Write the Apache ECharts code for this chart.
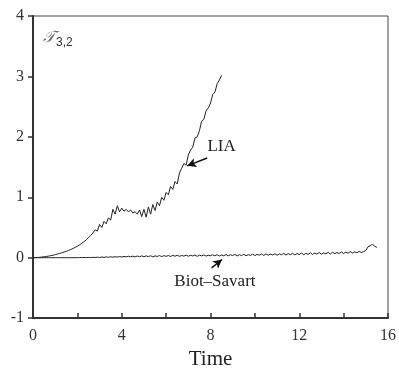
<!DOCTYPE html>
<html><head><meta charset="utf-8">
<script src="https://cdn.jsdelivr.net/npm/echarts@6/dist/echarts.min.js"></script>
<style>html,body{margin:0;padding:0;background:#fff}#c{width:399px;height:375px}</style>
</head><body><div id="c"></div>
<script>
var xTicks = [0, 4, 8, 12, 16];
var yTicks = [-1, 0, 1, 2, 3, 4];

var liaTime = [0.0,0.1,0.2,0.3,0.4,0.5,0.6,0.7,0.8,0.9,1.0,1.1,1.2,1.3,1.4,1.5,1.6,1.7,1.8,1.9,2.0,2.1,2.2,2.3,2.4,2.5,2.6,2.7,2.8,2.9,3.0,3.1,3.2,3.3,3.4,3.5,3.6,3.7,3.8,3.9,4.0,4.1,4.2,4.3,4.4,4.5,4.6,4.7,4.8,4.9,5.0,5.1,5.2,5.3,5.4,5.5,5.6,5.7,5.8,5.9,6.0,6.1,6.2,6.3,6.4,6.5,6.6,6.7,6.8,6.9,7.0,7.1,7.2,7.3,7.4,7.5,7.6,7.7,7.8,7.9,8.0,8.1,8.2,8.3,8.4,8.5];
var liaValue = [0,0.001,0.003,0.006,0.01,0.015,0.02,0.026,0.033,0.041,0.05,0.06,0.07,0.081,0.093,0.106,0.12,0.135,0.152,0.17,0.19,0.213,0.238,0.265,0.295,0.33,0.368,0.41,0.46,0.44,0.55,0.5,0.6,0.56,0.66,0.62,0.8,0.72,0.86,0.76,0.82,0.77,0.8,0.76,0.79,0.74,0.76,0.72,0.79,0.68,0.8,0.67,0.84,0.72,0.88,0.78,0.92,0.86,1.0,0.95,1.08,1.04,1.18,1.13,1.26,1.22,1.4,1.48,1.56,1.53,1.7,1.78,1.83,1.98,2.0,2.1,2.26,2.29,2.43,2.48,2.56,2.7,2.74,2.88,2.94,3.02];

var bsTime = [0.0,0.1,0.2,0.3,0.4,0.5,0.6,0.7,0.8,0.9,1.0,1.1,1.2,1.3,1.4,1.5,1.6,1.7,1.8,1.9,2.0,2.1,2.2,2.3,2.4,2.5,2.6,2.7,2.8,2.9,3.0,3.1,3.2,3.3,3.4,3.5,3.6,3.7,3.8,3.9,4.0,4.1,4.2,4.3,4.4,4.5,4.6,4.7,4.8,4.9,5.0,5.1,5.2,5.3,5.4,5.5,5.6,5.7,5.8,5.9,6.0,6.1,6.2,6.3,6.4,6.5,6.6,6.7,6.8,6.9,7.0,7.1,7.2,7.3,7.4,7.5,7.6,7.7,7.8,7.9,8.0,8.1,8.2,8.3,8.4,8.5,8.6,8.7,8.8,8.9,9.0,9.1,9.2,9.3,9.4,9.5,9.6,9.7,9.8,9.9,10.0,10.1,10.2,10.3,10.4,10.5,10.6,10.7,10.8,10.9,11.0,11.1,11.2,11.3,11.4,11.5,11.6,11.7,11.8,11.9,12.0,12.1,12.2,12.3,12.4,12.5,12.6,12.7,12.8,12.9,13.0,13.1,13.2,13.3,13.4,13.5,13.6,13.7,13.8,13.9,14.0,14.1,14.2,14.3,14.4,14.5,14.6,14.7,14.8,14.9,15.0,15.1,15.2,15.3,15.4,15.5];
var bsValue = [0,0,0,0,0,0,0,0,0,0,0,0,0,0,0,0,0,0,0,0,0,
0.002,0.0,0.004,0.001,0.005,0.002,0.006,0.003,0.008,0.004,0.01,0.006,0.012,0.007,0.015,0.008,0.016,0.01,0.018,0.012,
0.02,0.013,0.024,0.014,0.026,0.012,0.028,0.015,0.03,0.016,0.03,0.018,0.032,0.014,0.03,0.02,0.035,0.018,0.034,0.022,
0.036,0.02,0.038,0.024,0.04,0.022,0.036,0.026,0.042,0.024,0.04,0.028,0.044,0.022,0.042,0.03,0.046,0.026,0.04,0.032,
0.048,0.03,0.05,0.026,0.044,0.032,0.052,0.03,0.048,0.036,0.055,0.028,0.05,0.034,0.056,0.032,0.05,0.038,0.058,0.035,
0.055,0.04,0.06,0.038,0.062,0.042,0.058,0.045,0.066,0.04,0.064,0.048,0.07,0.044,0.066,0.05,0.072,0.046,0.068,0.052,
0.075,0.05,0.07,0.056,0.08,0.054,0.076,0.06,0.085,0.058,0.08,0.062,0.088,0.06,0.09,0.066,0.086,0.068,0.094,0.07,
0.092,0.074,0.1,0.078,0.096,0.082,0.104,0.086,0.1,0.12,0.18,0.2,0.22,0.19,0.17];

var seriesNames = ['LIA', 'Biot\u2013Savart'];
// annotation anchors in data units
var liaLabelAt = [8.5, 1.84];
var liaArrow = [[7.85, 1.65], [6.95, 1.52]];
var bsLabelAt = [8.2, -0.40];
var bsArrow = [[8.05, -0.17], [8.52, -0.03]];

function pairs(t, v) { return t.map(function (x, i) { return [x, v[i]]; }); }

var serif = '"Liberation Serif","Times New Roman",serif';
var chart = echarts.init(document.getElementById('c'), null, {renderer: 'canvas'});
chart.setOption({
  animation: false,
  backgroundColor: '#fff',
  grid: {left: 33, right: 10, top: 16, bottom: 54, show: true, borderColor: '#444', borderWidth: 1},
  title: {
    text: '{t|\uD835\uDCAF}{s|3,2}',
    left: 38, top: 22,
    textStyle: {fontWeight: 'normal', rich: {
      t: {fontFamily: '"DejaVu Serif","DejaVu Sans",serif', fontStyle: 'italic', fontWeight: 'normal', fontSize: 16, color: '#666'},
      s: {fontFamily: '"Liberation Sans",Arial,sans-serif', fontWeight: 'normal', fontSize: 12, color: '#333', padding: [10, 0, 0, 1]}
    }}
  },
  xAxis: {
    type: 'value', min: 0, max: 16, interval: 2,
    name: 'Time', nameLocation: 'middle', nameGap: 30,
    nameTextStyle: {fontFamily: serif, fontSize: 21, color: '#222'},
    axisLine: {onZero: false, lineStyle: {color: '#333', width: 2}},
    axisTick: {inside: true, length: 5, lineStyle: {color: '#333', width: 1.5}},
    axisLabel: {fontFamily: serif, fontSize: 16, color: '#333', margin: 10,
      formatter: function (v) { return xTicks.indexOf(v) >= 0 ? String(v) : ''; }},
    splitLine: {show: false}
  },
  yAxis: {
    type: 'value', min: -1, max: 4, interval: 1,
    axisLine: {show: true, onZero: false, lineStyle: {color: '#333', width: 2}},
    axisTick: {show: true, inside: false, length: 5, lineStyle: {color: '#333', width: 1.5}},
    axisLabel: {fontFamily: serif, fontSize: 16, color: '#333', margin: 9,
      formatter: function (v) { return yTicks.indexOf(v) >= 0 ? String(v) : ''; }},
    splitLine: {show: false}
  },
  series: [
    {
      name: seriesNames[0], type: 'line', showSymbol: false, symbol: 'none',
      data: pairs(liaTime, liaValue),
      lineStyle: {color: '#222', width: 1},
      markPoint: {symbol: 'circle', symbolSize: 0, silent: true,
        label: {show: true, position: 'inside', formatter: seriesNames[0], fontFamily: serif, fontSize: 17, color: '#222'},
        data: [{coord: liaLabelAt}]},
      markLine: {silent: true, symbol: ['none', 'arrow'], symbolSize: [7, 9], label: {show: false},
        lineStyle: {color: '#111', width: 1.5, type: 'solid'},
        data: [[{coord: liaArrow[0]}, {coord: liaArrow[1]}]]}
    },
    {
      name: seriesNames[1], type: 'line', showSymbol: false, symbol: 'none',
      data: pairs(bsTime, bsValue),
      lineStyle: {color: '#222', width: 1},
      markPoint: {symbol: 'circle', symbolSize: 0, silent: true,
        label: {show: true, position: 'inside', formatter: seriesNames[1], fontFamily: serif, fontSize: 17, color: '#222'},
        data: [{coord: bsLabelAt}]},
      markLine: {silent: true, symbol: ['none', 'arrow'], symbolSize: [7, 9], label: {show: false},
        lineStyle: {color: '#111', width: 1.5, type: 'solid'},
        data: [[{coord: bsArrow[0]}, {coord: bsArrow[1]}]]}
    }
  ]
});
</script></body></html>
